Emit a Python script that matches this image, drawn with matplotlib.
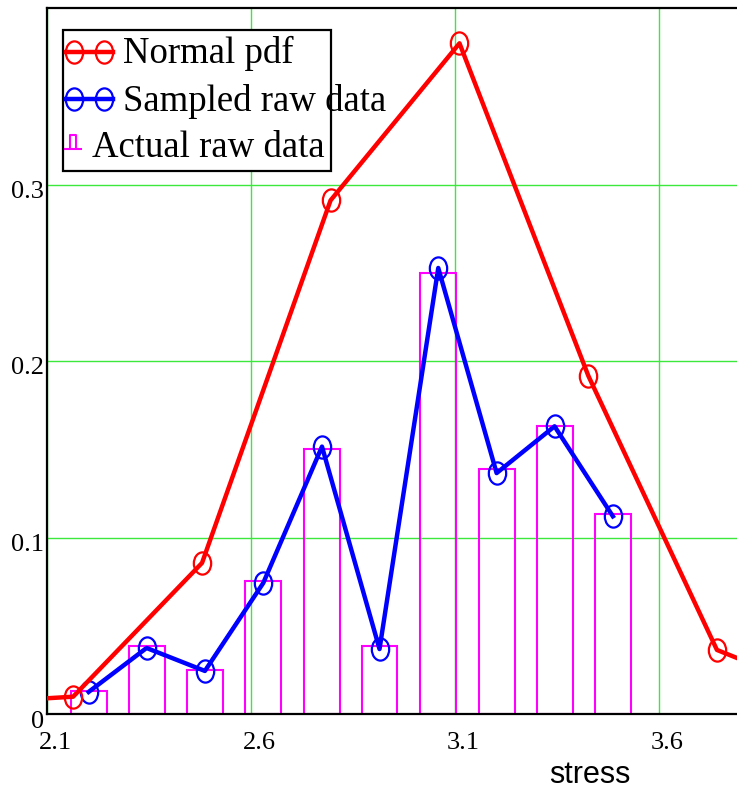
import matplotlib
matplotlib.use("Agg")
import matplotlib.pyplot as plt
import matplotlib.transforms as mtransforms
from matplotlib.path import Path
from matplotlib.lines import Line2D
from matplotlib.patches import Rectangle
import numpy as np

# normal pdf evaluated at the class centres
pdf_x = [1.848, 2.164, 2.480, 2.795, 3.111, 3.427, 3.742, 4.058]
pdf_y = [0.0054, 0.0098, 0.0856, 0.291, 0.380, 0.1915, 0.0363, 0.007]

# sampled raw data (relative frequencies)
samp_x = [2.202, 2.344, 2.487, 2.630, 2.774, 2.915, 3.059, 3.202, 3.344, 3.487]
samp_y = [0.0125, 0.0374, 0.0244, 0.0742, 0.1515, 0.0368, 0.2527, 0.1365, 0.163, 0.112]

# actual raw data (bar heights)
bar_h = [0.0132, 0.0385, 0.0251, 0.0754, 0.150, 0.0385, 0.250, 0.1388, 0.163, 0.1133]

x_ticks = [2.1, 2.6, 3.1, 3.6]
y_ticks = [0, 0.1, 0.2, 0.3]
y_labels = ["0", "0.1", "0.2", "0.3"]
legend_labels = ["Normal pdf", "Sampled raw data", "Actual raw data"]

W, H = 737, 789
fig = plt.figure(figsize=(W / 100, H / 100), dpi=100)
# axes box in pixels: left 47, bottom 714, top 8, runs past the right edge
ax = fig.add_axes([47 / W, (H - 714) / H, (W - 47) / W, (714 - 8) / H])
ax.set_xlim(2.1, 2.1 + 690 / 408)
ax.set_ylim(0, 0.4)


def px(x, y):
    # pixel position (from top left) -> figure fraction
    return x / W, 1 - y / H


# Mathcad style circles are a bit taller than wide
circ = Path.unit_circle()
ell = Path(circ.vertices * np.array([0.78, 1.0]), circ.codes)
line_kw = dict(linewidth=3.2, marker=ell, markersize=16,
               markerfacecolor="none", markeredgewidth=1.6)

ax.grid(True, color="#3be83b", linewidth=1.0)
ax.set_axisbelow(True)

ax.bar(samp_x, bar_h, width=0.088, fill=False, edgecolor="#ff00ff",
       linewidth=1.5, zorder=2)
ax.plot(samp_x, samp_y, color="#0000ff", zorder=3, **line_kw)
ax.plot(pdf_x, pdf_y, color="#ff0000", zorder=4, **line_kw)

ax.spines["right"].set_visible(False)
for side in ["left", "top", "bottom"]:
    ax.spines[side].set_linewidth(1.6)
    ax.spines[side].set_color("black")

ax.set_xticks(x_ticks)
ax.set_xticklabels([f"{v:.1f}" for v in x_ticks])
ax.set_yticks(y_ticks)
ax.set_yticklabels(y_labels)
ax.tick_params(length=0, labelsize=19)
ax.tick_params(axis="x", pad=13)
ax.tick_params(axis="y", pad=2)
for lab in ax.get_xticklabels() + ax.get_yticklabels():
    lab.set_family("Liberation Serif")
xshift = mtransforms.ScaledTranslation(8 / 100, 0, fig.dpi_scale_trans)
for lab in ax.get_xticklabels():
    lab.set_transform(lab.get_transform() + xshift)
yshift = mtransforms.ScaledTranslation(0, -5 / 100, fig.dpi_scale_trans)
for lab in ax.get_yticklabels():
    lab.set_transform(lab.get_transform() + yshift)

fig.text(590 / W, 1 - 775 / H, "stress", family="Liberation Sans",
         fontsize=22, ha="center", va="center")

# legend drawn by hand: Mathcad lets the text run past the box
x0, y0 = px(63, 171)
x1, y1 = px(331, 30)
fig.add_artist(Rectangle((x0, y0), x1 - x0, y1 - y0, transform=fig.transFigure,
                         facecolor="white", edgecolor="black", linewidth=1.6,
                         zorder=5))
for colour, yrow in [("#ff0000", 52), ("#0000ff", 99)]:
    (xa, ya), (xb, _) = px(74, yrow), px(104, yrow)
    fig.add_artist(Line2D([px(66, 0)[0], xa, xb, px(113, 0)[0]], [ya] * 4,
                          transform=fig.transFigure, color=colour, zorder=6,
                          markevery=[1, 2], **line_kw))
bar_path = Path([(-1, -0.75), (1, -0.75), (-0.3, -0.75), (-0.3, 0.75),
                 (0.3, 0.75), (0.3, -0.75)],
                [Path.MOVETO, Path.LINETO, Path.MOVETO, Path.LINETO,
                 Path.LINETO, Path.LINETO])
bx, by = px(73, 142)
fig.add_artist(Line2D([bx], [by], transform=fig.transFigure, linestyle="none",
                      marker=bar_path, markersize=13, markerfacecolor="none",
                      markeredgecolor="#ff00ff", markeredgewidth=1.5, zorder=6))
for label, xt, yt in zip(legend_labels, [123, 123, 92], [63, 111, 157]):
    tx, ty = px(xt, yt)
    fig.text(tx, ty, label, family="Liberation Serif", fontsize=26.5,
             ha="left", va="baseline", zorder=7)

fig.savefig("out.png", dpi=100)
